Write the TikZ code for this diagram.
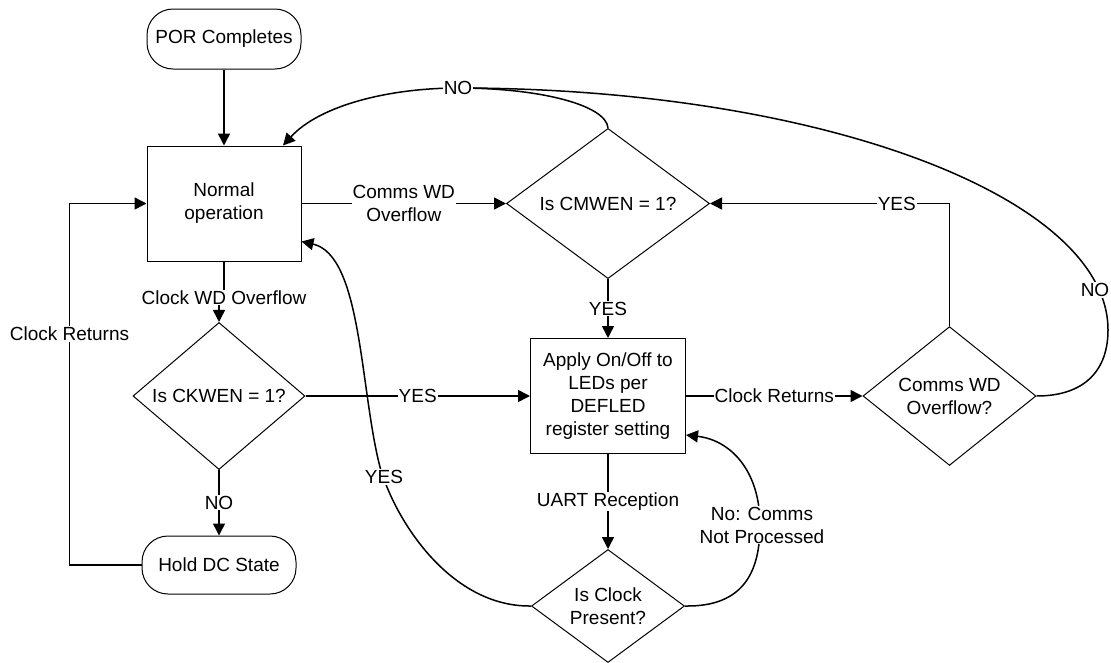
\documentclass[tikz,border=0pt]{standalone}
\usepackage{fontspec}
\setmainfont{Liberation Sans}
\usetikzlibrary{shapes.geometric,arrows.meta}

\begin{document}
\begin{tikzpicture}[
        x=1pt,y=-1pt,
        font=\fontsize{19}{23}\selectfont,
        box/.style={draw,line width=1pt,minimum width=154pt,minimum height=115pt,align=center,inner sep=0pt},
        term/.style={draw,line width=1pt,rounded corners=26pt,minimum width=154pt,minimum height=60pt,inner sep=0pt},
        decide/.style={draw,diamond,line width=1pt,minimum width=#1,minimum height=115pt,align=center,inner sep=0pt},
        flow/.style={line width=1.5pt,-{Triangle[length=12pt,width=12pt]}},
        wire/.style={line width=1.5pt},
        lbl/.style={fill=white,inner sep=1pt,align=center},
    ]
    \useasboundingbox (0,0) rectangle (1111,662);

    % shapes
    \node[term] (por) at (224,39) {POR Completes};
    \node[box] (normal) at (224,203.5) {Normal\\operation};
    \node[decide=203pt] (cmwen) at (608,203.5) {Is CMWEN = 1?};
    \node[decide=172pt] (ckwen) at (219,396) {Is CKWEN = 1?};
    \node[term,minimum height=58pt] (hold) at (219,565) {Hold DC State};
    \node[box,minimum width=155pt] (apply) at (608,396) {Apply On/Off to\\LEDs per\\DEFLED\\register setting};
    \node[decide=153pt,minimum height=113pt] (present) at (608,606) {Is Clock\\Present?};
    \node[decide=173pt,minimum height=114pt] (ovf) at (949.5,396) {Comms WD\\Overflow?};

    % straight connectors
    \draw[flow] (por) -- (normal);
    \draw[flow] (normal) -- node[lbl] (lblComms) {Comms WD\\Overflow} (cmwen);
    \draw[flow] (normal.south) -- ++(0,36) node[lbl] (lblClockWD) {Clock WD Overflow} -| (ckwen.north);
    \draw[flow] (ckwen) -- node[lbl] (lblNoHold) {NO} (hold);
    \draw[flow] (hold.west) -- ++(-72,0) |- node[lbl,pos=0.32] (lblReturnsL) {Clock Returns} (normal.west);
    \draw[flow] (ckwen) -- node[lbl] (lblYesApply) {YES} (apply);
    \draw[flow] (cmwen) -- node[lbl] (lblYesDown) {YES} (apply);
    \draw[flow] (apply) -- node[lbl] (lblReturnsR) {Clock Returns} (ovf);
    \draw[flow] (apply) -- node[lbl] (lblUart) {UART Reception} (present);
    \draw[flow] (ovf.north) |- node[lbl,pos=0.61] (lblYesUp) {YES} (cmwen.east);

    % curved connectors
    \coordinate (nopt) at (458,88);
    \draw[flow] (cmwen.north) .. controls (606,105) and (540,88) .. (nopt)
        .. controls (390,88) and (320,105) .. ([xshift=59pt]normal.north);
    \draw[wire] (ovf.east) .. controls (1085,396) and (1108,370) .. (1108,330)
        .. controls (1108,196) and (817,88) .. (nopt);
    \node[lbl] (noTop) at (nopt) {NO};
    \node[lbl] (noRight) at (1095,290) {NO};

    \draw[flow] (present.west) .. controls (450,607) and (395,520) .. (380,467)
        .. controls (360,390) and (362,255) .. ([yshift=-38pt]normal.east);
    \node[lbl] (yesBack) at (384,477) {YES};

    \draw[flow] (present.east) .. controls (745,607) and (760,570) .. (760,525)
        .. controls (760,470) and (730,440) .. ([yshift=-39pt]apply.east);
    \node[lbl] (noComms) at (762,525) {No: Comms\\Not Processed};

\end{tikzpicture}
\end{document}
